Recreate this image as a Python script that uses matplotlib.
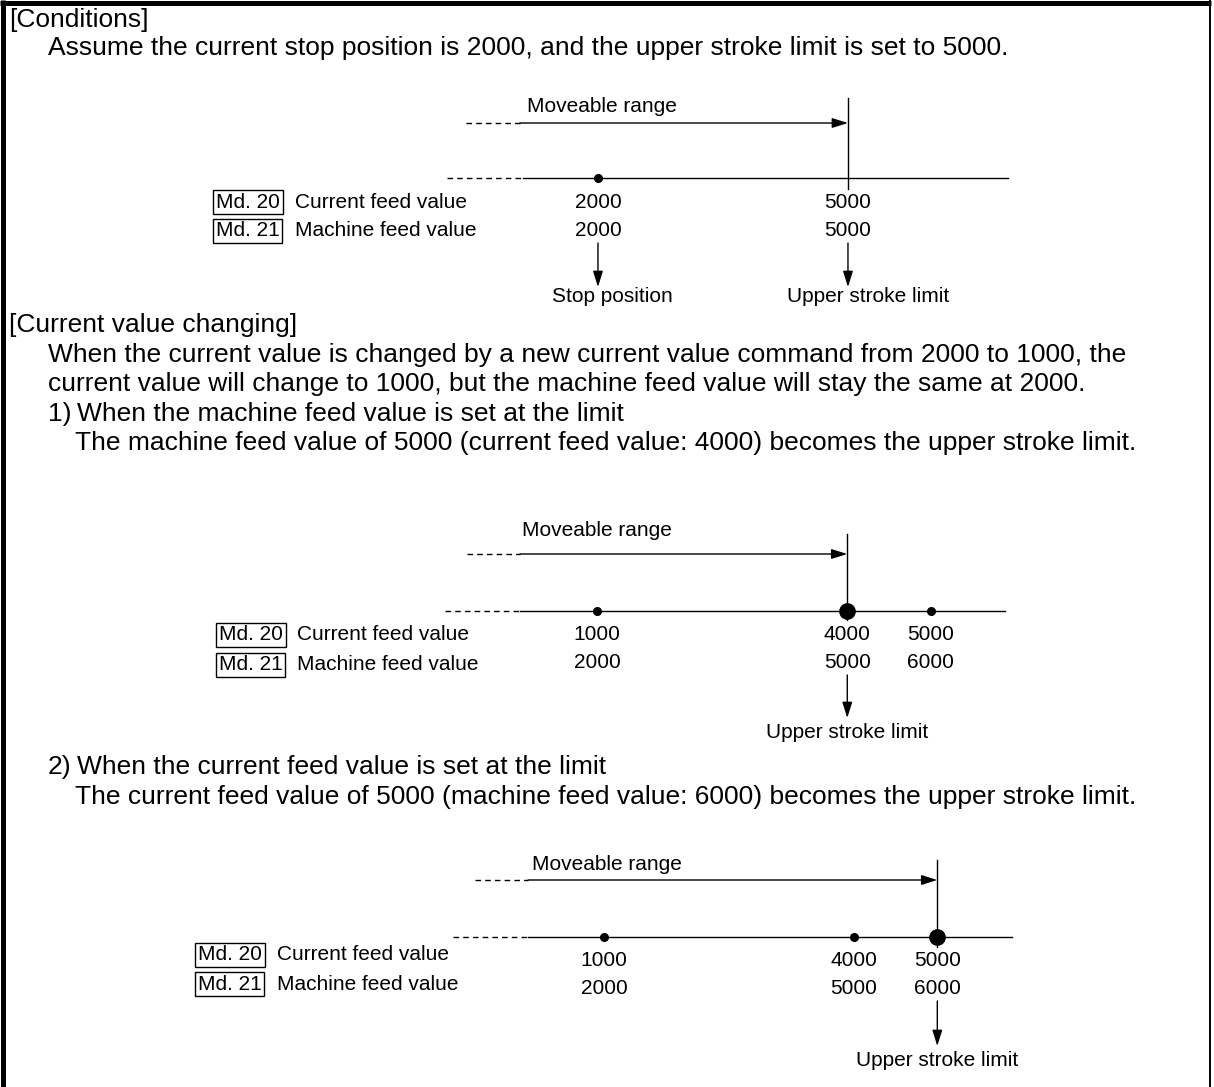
import matplotlib
matplotlib.use("Agg")
import matplotlib.pyplot as plt

plt.rcParams['font.family'] = ['Liberation Sans', 'DejaVu Sans']

W, H = 1214, 1087
MAIN_FS = 19
DIAG_FS = 15

# values shown on the three number lines (current feed / machine feed)
cond_current = [2000, 5000]
cond_machine = [2000, 5000]
cond_dots = [2000]
cond_limit = 5000

case1_current = [1000, 4000, 5000]
case1_machine = [2000, 5000, 6000]
case1_dots = [2000, 5000, 6000]
case1_limit = 5000

case2_current = [1000, 4000, 5000]
case2_machine = [2000, 5000, 6000]
case2_dots = [2000, 5000, 6000]
case2_limit = 6000

row_tags = ["Md. 20", "Md. 21"]
row_names = ["Current feed value", "Machine feed value"]

paragraphs = [
    (9, 20, "[Conditions]"),
    (48, 48, "Assume the current stop position is 2000, and the upper stroke limit is set to 5000."),
    (9, 325, "[Current value changing]"),
    (48, 355, "When the current value is changed by a new current value command from 2000 to 1000, the"),
    (48, 384, "current value will change to 1000, but the machine feed value will stay the same at 2000."),
    (48, 414, "1)"),
    (77, 414, "When the machine feed value is set at the limit"),
    (75, 443, "The machine feed value of 5000 (current feed value: 4000) becomes the upper stroke limit."),
    (48, 767, "2)"),
    (77, 767, "When the current feed value is set at the limit"),
    (75, 797, "The current feed value of 5000 (machine feed value: 6000) becomes the upper stroke limit."),
]

fig = plt.figure(figsize=(W / 100, H / 100), dpi=100)
ax = fig.add_axes([0, 0, 1, 1])
ax.set_xlim(0, W)
ax.set_ylim(H, 0)
ax.axis("off")

# frame
ax.plot([2.5, 2.5], [0, H], color="black", lw=3.6, solid_capstyle="butt")
ax.plot([0, W - 3], [2.5, 2.5], color="black", lw=3.6, solid_capstyle="butt")
ax.plot([W - 4, W - 4], [0, H], color="black", lw=1.4, solid_capstyle="butt")

for x, y, s in paragraphs:
    ax.text(x, y, s, fontsize=MAIN_FS, ha="left", va="center")


def draw_diagram(current, machine, dots, limit, origin, lay, captions):
    """One number line; x of the diagram axes is the machine feed value."""
    scale = 250 / 3000
    d = fig.add_axes([0, 0, 1, 1])
    d.set_xlim(-origin / scale, (W - origin) / scale)
    d.set_ylim(H, 0)
    d.axis("off")
    d.patch.set_alpha(0)

    def v(px):
        return (px - origin) / scale

    head = dict(arrowstyle="-|>,head_length=0.8,head_width=0.25", mutation_scale=12,
                color="black", lw=1.0, shrinkA=0, shrinkB=0)

    # moveable range arrow
    d.text(v(lay["label_x"]), lay["label_y"], "Moveable range", fontsize=DIAG_FS,
           ha="left", va="center")
    d.plot([v(lay["arr_dash"][0]), v(lay["arr_dash"][1])], [lay["arr_y"]] * 2,
           color="black", lw=1.0, ls=(0, (4, 3)))
    d.annotate("", xy=(limit, lay["arr_y"]), xytext=(v(lay["arr_dash"][1]), lay["arr_y"]),
               arrowprops=head)
    d.plot([limit, limit], [lay["vline"][0], lay["vline"][1]], color="black", lw=1.0)

    # axis line
    d.plot([v(lay["axis_dash"][0]), v(lay["axis_dash"][1])], [lay["axis_y"]] * 2,
           color="black", lw=1.0, ls=(0, (4, 3)))
    d.plot([v(lay["axis_dash"][1]), v(lay["axis_end"])], [lay["axis_y"]] * 2,
           color="black", lw=1.0)
    for m in dots:
        size = 11 if m == limit else 5.5
        d.plot([m], [lay["axis_y"]], "o", color="black", ms=size, zorder=5)

    # row labels
    for i in range(2):
        d.text(v(lay["tag_x"]), lay["rows"][i], row_tags[i], fontsize=DIAG_FS,
               ha="left", va="center",
               bbox=dict(boxstyle="square,pad=0.13", fc="none", ec="black", lw=1.0))
        d.text(v(lay["name_x"]), lay["rows"][i], row_names[i], fontsize=DIAG_FS,
               ha="left", va="center")
    for c, m in zip(current, machine):
        d.text(m, lay["vals"][0], str(c), fontsize=DIAG_FS, ha="center", va="center")
        d.text(m, lay["vals"][1], str(m), fontsize=DIAG_FS, ha="center", va="center")

    # down arrows with captions
    for m, text, dx in captions:
        d.annotate("", xy=(m, lay["down"][1]), xytext=(m, lay["down"][0]), arrowprops=head)
        d.text(m + dx / scale, lay["cap_y"], text, fontsize=DIAG_FS, ha="center", va="center")


draw_diagram(cond_current, cond_machine, cond_dots, cond_limit, 431.3,
             dict(label_x=527, label_y=107, arr_y=123, arr_dash=(466, 520),
                  vline=(98, 189), axis_y=178, axis_dash=(447, 523), axis_end=1008,
                  tag_x=216, name_x=295, rows=(202, 231), vals=(202, 231),
                  down=(243, 287), cap_y=297),
             [(2000, "Stop position", 14), (5000, "Upper stroke limit", 20)])

draw_diagram(case1_current, case1_machine, case1_dots, case1_limit, 430.6,
             dict(label_x=522, label_y=531, arr_y=554, arr_dash=(467, 520),
                  vline=(534, 620), axis_y=611, axis_dash=(445, 520), axis_end=1005,
                  tag_x=219, name_x=297, rows=(635, 665), vals=(635, 663),
                  down=(675, 718), cap_y=733),
             [(5000, "Upper stroke limit", 0)])

draw_diagram(case2_current, case2_machine, case2_dots, case2_limit, 437.3,
             dict(label_x=532, label_y=865, arr_y=880, arr_dash=(475, 528),
                  vline=(860, 947), axis_y=937, axis_dash=(453, 528), axis_end=1012,
                  tag_x=198, name_x=277, rows=(955, 984), vals=(961, 989),
                  down=(1001, 1046), cap_y=1060),
             [(6000, "Upper stroke limit", 0)])

fig.savefig("out.png", dpi=100)
